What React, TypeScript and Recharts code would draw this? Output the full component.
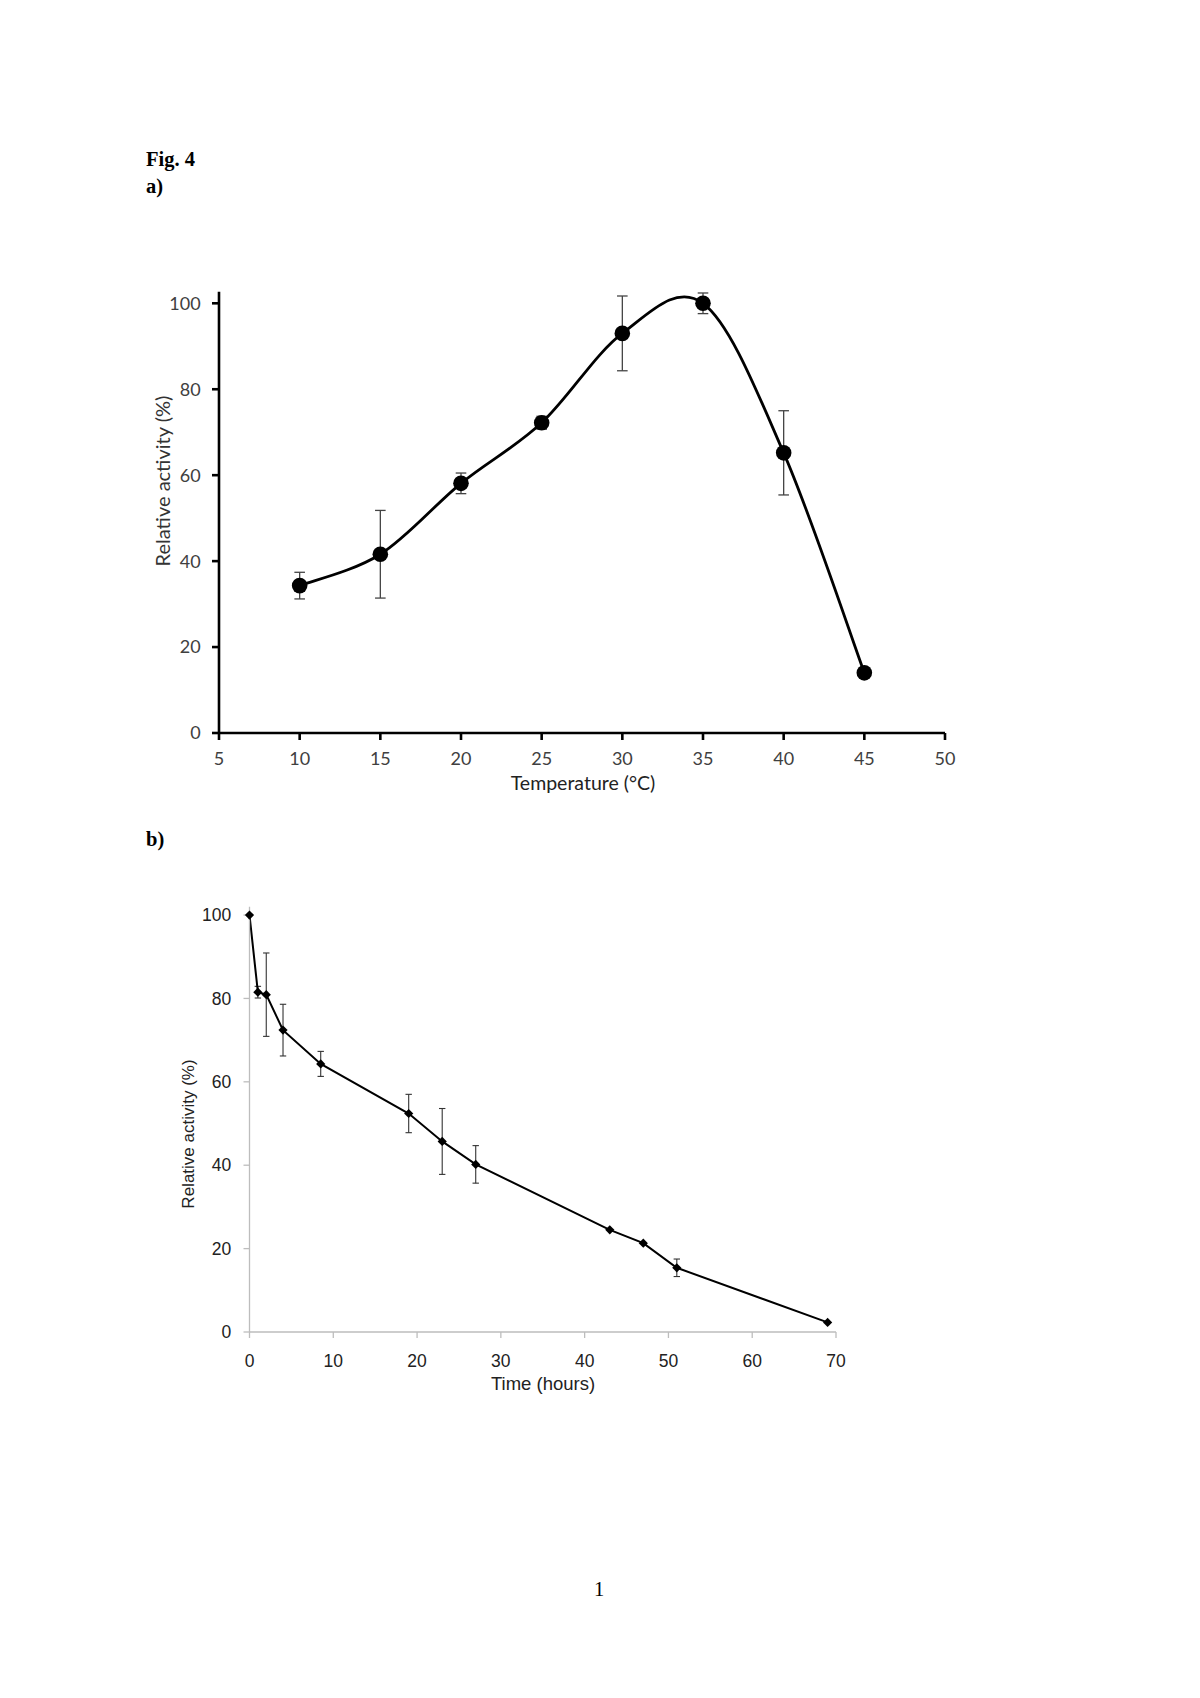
import React from "react";
import { LineChart, Line, XAxis, YAxis, ErrorBar } from "recharts";

// a) temperature profile
const tempC = [10, 15, 20, 25, 30, 35, 40, 45];
const tempActivity = [34.3, 41.6, 58.1, 72.2, 93.0, 100, 65.2, 14.0];
const tempError = [3.1, 10.2, 2.4, 1.5, 8.7, 2.4, 9.8, 0];
const tempTicks = [5, 10, 15, 20, 25, 30, 35, 40, 45, 50];

// b) stability over time
const timeHours = [0, 1, 2, 4, 8.5, 19, 23, 27, 43, 47, 51, 69];
const timeActivity = [100, 81.5, 80.9, 72.4, 64.3, 52.4, 45.7, 40.2, 24.5, 21.3, 15.4, 2.3];
const timeError = [0, 1.4, 10, 6.2, 3.0, 4.6, 7.9, 4.5, 0, 0, 2.1, 0];
const timeTicks = [0, 10, 20, 30, 40, 50, 60, 70];

const activityTicks = [0, 20, 40, 60, 80, 100];

const tempData = tempC.map((t, i) => ({ x: t, y: tempActivity[i], err: tempError[i] }));
const timeData = timeHours.map((t, i) => ({ x: t, y: timeActivity[i], err: timeError[i] }));

// Excel-like smoothed line (Catmull-Rom through the points)
function smoothCurve(context: any) {
  let xs: number[] = [];
  let ys: number[] = [];
  return {
    areaStart() {},
    areaEnd() {},
    lineStart() {
      xs = [];
      ys = [];
    },
    point(x: number, y: number) {
      xs.push(+x);
      ys.push(+y);
    },
    lineEnd() {
      const n = xs.length;
      if (!n) return;
      context.moveTo(xs[0], ys[0]);
      for (let i = 0; i < n - 1; i++) {
        const a = Math.max(i - 1, 0);
        const d = Math.min(i + 2, n - 1);
        context.bezierCurveTo(
          xs[i] + (xs[i + 1] - xs[a]) / 6,
          ys[i] + (ys[i + 1] - ys[a]) / 6,
          xs[i + 1] - (xs[d] - xs[i]) / 6,
          ys[i + 1] - (ys[d] - ys[i]) / 6,
          xs[i + 1],
          ys[i + 1]
        );
      }
    },
  };
}

const Diamond = (props: any) => {
  const { cx, cy, index } = props;
  const s = 4.6;
  return (
    <path
      key={`dm-${index}`}
      d={`M${cx},${cy - s}L${cx + s},${cy}L${cx},${cy + s}L${cx - s},${cy}Z`}
      fill="#000"
    />
  );
};

const calibri = "Lato, 'Open Sans', sans-serif";
const arial = "'Liberation Sans', Arial, sans-serif";

function Title({ x, y, text, font, size, color, rotate }: any) {
  return (
    <div
      style={{
        position: "absolute",
        left: x,
        top: y,
        transform: `translate(-50%, -50%)${rotate ? " rotate(-90deg)" : ""}`,
        whiteSpace: "nowrap",
        fontFamily: font,
        fontSize: size,
        color,
        lineHeight: 1,
      }}
    >
      {text}
    </div>
  );
}

const serif = "'Liberation Serif', 'Times New Roman', serif";

export default function App() {
  return (
    <div
      style={{
        position: "absolute",
        left: 0,
        top: 0,
        width: 1200,
        height: 1698,
        background: "#fff",
      }}
    >
      <div style={{ position: "absolute", left: 146, top: 148, fontFamily: serif, fontWeight: "bold", fontSize: 20.5, lineHeight: "22px" }}>
        Fig. 4
      </div>
      <div style={{ position: "absolute", left: 146, top: 175, fontFamily: serif, fontWeight: "bold", fontSize: 20.5, lineHeight: "22px" }}>
        a)
      </div>
      <div style={{ position: "absolute", left: 146, top: 828, fontFamily: serif, fontWeight: "bold", fontSize: 20.5, lineHeight: "22px" }}>
        b)
      </div>
      <div style={{ position: "absolute", left: 594, top: 1578, fontFamily: serif, fontSize: 20.5, lineHeight: "22px" }}>
        1
      </div>

      {/* chart a */}
      <div style={{ position: "absolute", left: 0, top: 250 }}>
        <LineChart width={1000} height={560} data={tempData} margin={{ top: 41.7, right: 55, bottom: 0, left: 0 }}>
          <XAxis
            type="number"
            dataKey="x"
            domain={[5, 50]}
            ticks={tempTicks}
            interval={0}
            height={77}
            tickSize={7}
            tickMargin={12.5}
            axisLine={{ stroke: "#000", strokeWidth: 2.6 }}
            tickLine={{ stroke: "#000", strokeWidth: 2.6 }}
            tick={{ fill: "#404040", fontSize: 18, fontFamily: calibri }}
          />
          <YAxis
            type="number"
            domain={[0, 102.7]}
            ticks={activityTicks}
            interval={0}
            width={219}
            tickSize={7}
            tickMargin={11.3}
            axisLine={{ stroke: "#000", strokeWidth: 2.6 }}
            tickLine={{ stroke: "#000", strokeWidth: 2.6 }}
            tick={{ fill: "#404040", fontSize: 18, fontFamily: calibri }}
          />
          <Line
            dataKey="y"
            type={smoothCurve as any}
            stroke="#000"
            strokeWidth={2.8}
            dot={{ r: 7.8, fill: "#000", stroke: "#000", strokeWidth: 0 }}
            activeDot={false}
            isAnimationActive={false}
          >
            <ErrorBar dataKey="err" direction="y" width={5.3} stroke="#444" strokeWidth={1.3} />
          </Line>
        </LineChart>
      </div>
      <Title x={162} y={481} text="Relative activity (%)" font={calibri} size={20} color="#333" rotate />
      <Title x={583} y={783} text="Temperature (°C)" font={calibri} size={19.5} color="#222" />

      {/* chart b */}
      <div style={{ position: "absolute", left: 0, top: 860 }}>
        <LineChart width={1000} height={560} data={timeData} margin={{ top: 46.7, right: 164, bottom: 0, left: 0 }}>
          <XAxis
            type="number"
            dataKey="x"
            domain={[0, 70]}
            ticks={timeTicks}
            interval={0}
            height={88}
            tickSize={6}
            tickMargin={16.5}
            axisLine={{ stroke: "#bdbdbd", strokeWidth: 1.3 }}
            tickLine={{ stroke: "#bdbdbd", strokeWidth: 1.3 }}
            tick={{ fill: "#222", fontSize: 17.5, fontFamily: arial }}
          />
          <YAxis
            type="number"
            domain={[0, 102]}
            ticks={activityTicks}
            interval={0}
            width={249.5}
            tickSize={6}
            tickMargin={12.3}
            axisLine={{ stroke: "#bdbdbd", strokeWidth: 1.3 }}
            tickLine={{ stroke: "#bdbdbd", strokeWidth: 1.3 }}
            tick={{ fill: "#222", fontSize: 17.5, fontFamily: arial }}
          />
          <Line
            dataKey="y"
            type="linear"
            stroke="#000"
            strokeWidth={2}
            dot={Diamond}
            activeDot={false}
            isAnimationActive={false}
          >
            <ErrorBar dataKey="err" direction="y" width={3.2} stroke="#333" strokeWidth={1.1} />
          </Line>
        </LineChart>
      </div>
      <Title x={188} y={1134} text="Relative activity (%)" font={arial} size={17} color="#222" rotate />
      <Title x={543} y={1384} text="Time (hours)" font={arial} size={18.5} color="#222" />
    </div>
  );
}
